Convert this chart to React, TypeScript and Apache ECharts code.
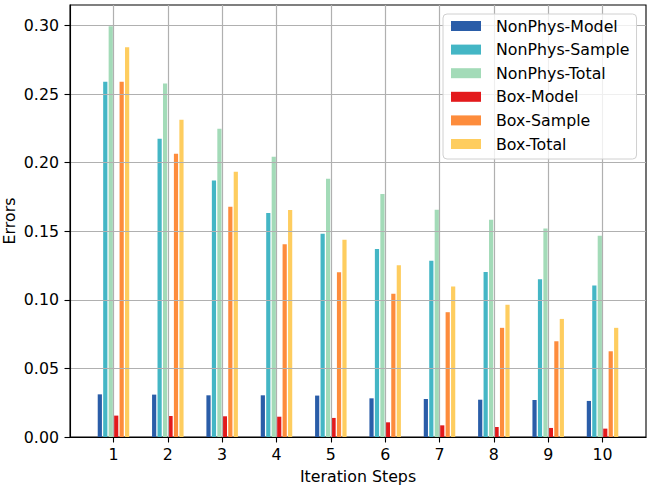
import React, { useEffect, useRef } from "react";
import * as echarts from "echarts";

const categories = [1, 2, 3, 4, 5, 6, 7, 8, 9, 10];
const yTicks = [0, 0.05, 0.1, 0.15, 0.2, 0.25, 0.3];
const seriesNames = [
  "NonPhys-Model",
  "NonPhys-Sample",
  "NonPhys-Total",
  "Box-Model",
  "Box-Sample",
  "Box-Total",
];
const nonPhysModel = [0.0311, 0.0309, 0.0304, 0.0304, 0.0302, 0.0282, 0.0277, 0.0272, 0.027, 0.0263];
const nonPhysSample = [0.259, 0.2175, 0.1871, 0.1633, 0.1482, 0.137, 0.1285, 0.1204, 0.1151, 0.1105];
const nonPhysTotal = [0.2995, 0.2577, 0.2248, 0.2044, 0.1883, 0.1771, 0.1657, 0.1584, 0.1521, 0.1467];
const boxModel = [0.0156, 0.0153, 0.0151, 0.0148, 0.0139, 0.0107, 0.0085, 0.0073, 0.0066, 0.0061];
const boxSample = [0.259, 0.2066, 0.1679, 0.1406, 0.1202, 0.1044, 0.091, 0.0796, 0.0698, 0.0625];
const boxTotal = [0.2842, 0.2314, 0.1934, 0.1655, 0.1438, 0.1253, 0.1097, 0.0964, 0.0861, 0.0796];
const seriesValues = [nonPhysModel, nonPhysSample, nonPhysTotal, boxModel, boxSample, boxTotal];
const colors = ["#2a5da8", "#44b6c5", "#a3dbb8", "#e31a1c", "#fd8c3c", "#fecd5f"];

const FONT = "DejaVu Sans";
const FS = 15.8;

export default function App() {
  const ref = useRef<HTMLDivElement>(null);
  useEffect(() => {
    if (!ref.current) return;
    const chart = echarts.init(ref.current, undefined, { renderer: "svg" });
    chart.setOption({
      animation: false,
      textStyle: { fontFamily: FONT, fontSize: FS, color: "#000" },
      grid: {
        left: 70,
        right: 19,
        top: 5,
        bottom: 51,
        show: true,
        borderColor: "#000",
        borderWidth: 1.1,
        containLabel: false,
        outerBoundsMode: "none",
      },
      legend: {
        orient: "vertical",
        left: 443,
        top: 14,
        padding: [4, 7, 7, 8],
        itemWidth: 30,
        itemHeight: 10,
        itemGap: 7.6,
        icon: "rect",
        borderColor: "#d0d0d0",
        borderWidth: 1,
        borderRadius: 4,
        backgroundColor: "rgba(255,255,255,0.8)",
        itemStyle: { borderWidth: 0 },
        textStyle: {
          fontFamily: FONT,
          fontSize: FS,
          color: "#000",
          lineHeight: 16,
          padding: [0, 0, 0, 10],
        },
        data: seriesNames,
      },
      xAxis: {
        type: "value",
        min: 0.2,
        max: 10.8,
        minInterval: 1,
        maxInterval: 1,
        splitNumber: 10,
        z: 3,
        name: "Iteration Steps",
        nameLocation: "middle",
        nameGap: 31,
        nameMoveOverlap: false,
        nameTextStyle: { fontFamily: FONT, fontSize: FS, color: "#000" },
        axisLine: { show: true, onZero: false, lineStyle: { color: "#000", width: 1.1 } },
        axisTick: {
          show: true,
          length: 5.5,
          customValues: categories,
          lineStyle: { color: "#000", width: 1.1 },
        },
        axisLabel: {
          customValues: categories,
          margin: 9.5,
          fontFamily: FONT,
          fontSize: FS,
          color: "#000",
        },
        splitLine: { show: true, lineStyle: { color: "#b0b0b0", width: 1.2 } },
      },
      yAxis: {
        type: "value",
        min: 0,
        max: 0.315,
        interval: 0.05,
        z: 3,
        name: "Errors",
        nameLocation: "middle",
        nameGap: 53,
        nameRotate: 90,
        nameMoveOverlap: false,
        nameTextStyle: { fontFamily: FONT, fontSize: FS, color: "#000" },
        axisLine: { show: true, lineStyle: { color: "#000", width: 1.1 } },
        axisTick: {
          show: true,
          length: 5.5,
          customValues: yTicks,
          lineStyle: { color: "#000", width: 1.1 },
        },
        axisLabel: {
          customValues: yTicks,
          margin: 11,
          fontFamily: FONT,
          fontSize: FS,
          color: "#000",
          formatter: (v: number) => v.toFixed(2),
        },
        splitLine: { show: true, lineStyle: { color: "#b0b0b0", width: 1.2 } },
      },
      series: seriesNames.map((name, k) => ({
        name,
        type: "bar",
        barWidth: 4.2,
        barGap: "30%",
        z: 2,
        itemStyle: { color: colors[k] },
        data: categories.map((c, i) => [c, seriesValues[k][i]]),
      })),
    });
    return () => chart.dispose();
  }, []);
  return (
    <div
      ref={ref}
      style={{ position: "absolute", left: 0, top: 0, width: 665, height: 488 }}
    />
  );
}
